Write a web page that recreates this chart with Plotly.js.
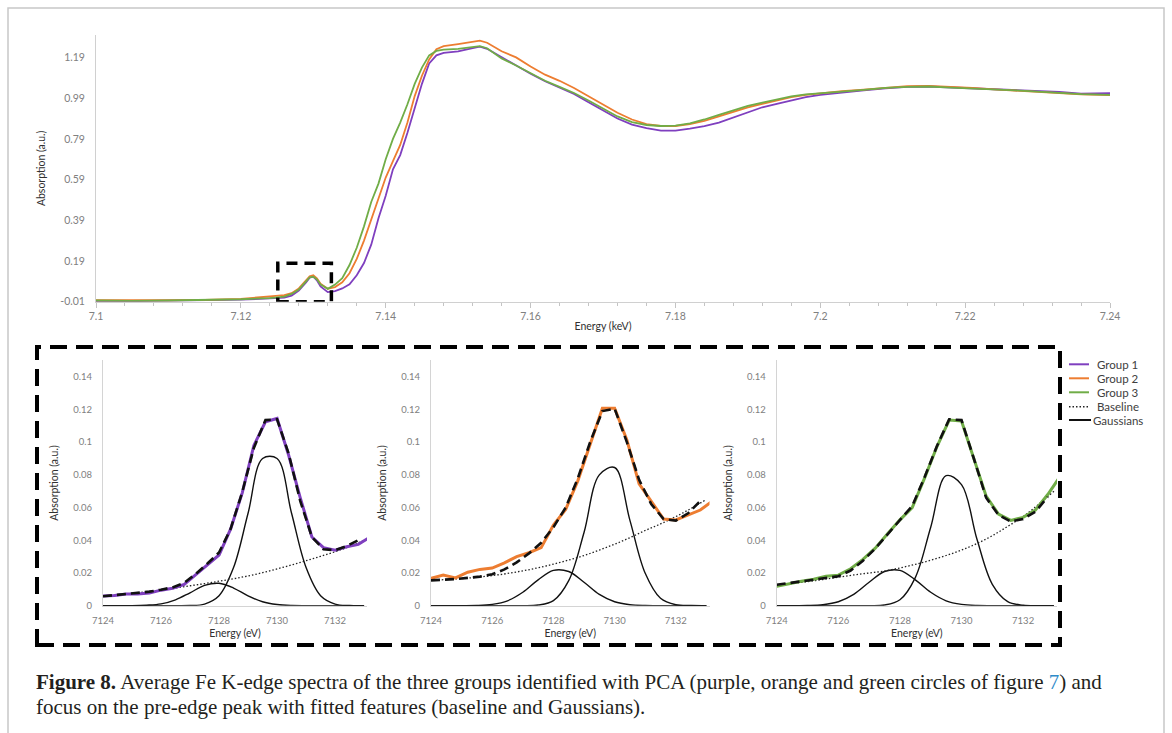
<!DOCTYPE html>
<html>
<head>
<meta charset="utf-8">
<script src="https://cdn.plot.ly/plotly-3.0.1.min.js"></script>
<style>
html,body{margin:0;padding:0;background:#fff;}
#chart{width:1172px;height:733px;}
</style>
</head>
<body>
<div id="chart"></div>
<script>
// ---------- Top chart: Fe K-edge spectra (energy in keV) ----------
const topE = [7.100, 7.105, 7.110, 7.115, 7.120, 7.124, 7.126, 7.127, 7.128, 7.129,
  7.1295, 7.130, 7.1305, 7.131, 7.132, 7.133, 7.134, 7.135, 7.136, 7.137,
  7.138, 7.139, 7.140, 7.141, 7.142, 7.143, 7.144, 7.145, 7.146, 7.147,
  7.148, 7.150, 7.152, 7.153, 7.154, 7.156, 7.158, 7.160, 7.162, 7.164,
  7.166, 7.168, 7.170, 7.172, 7.174, 7.176, 7.178, 7.180, 7.182, 7.184,
  7.186, 7.188, 7.190, 7.192, 7.194, 7.196, 7.198, 7.200, 7.203, 7.206,
  7.209, 7.212, 7.215, 7.218, 7.221, 7.224, 7.227, 7.230, 7.233, 7.236, 7.240];

const group1Top = [-0.010, -0.008, -0.006, -0.003, 0.000, 0.006, 0.010, 0.020, 0.045, 0.085,
  0.108, 0.113, 0.095, 0.065, 0.037, 0.042, 0.055, 0.075, 0.120, 0.180,
  0.270, 0.400, 0.510, 0.640, 0.710, 0.820, 0.940, 1.060, 1.160, 1.200,
  1.212, 1.220, 1.235, 1.243, 1.232, 1.190, 1.150, 1.110, 1.073, 1.042,
  1.010, 0.970, 0.928, 0.890, 0.860, 0.843, 0.830, 0.830, 0.840, 0.852,
  0.870, 0.895, 0.920, 0.945, 0.962, 0.980, 0.995, 1.006, 1.018, 1.028,
  1.038, 1.045, 1.047, 1.043, 1.038, 1.033, 1.028, 1.024, 1.020, 1.012, 1.014];

const group2Top = [-0.003, -0.004, -0.003, -0.001, 0.004, 0.016, 0.022, 0.032, 0.055, 0.095,
  0.115, 0.120, 0.105, 0.078, 0.054, 0.062, 0.085, 0.130, 0.200, 0.290,
  0.390, 0.490, 0.600, 0.680, 0.760, 0.870, 1.000, 1.100, 1.180, 1.230,
  1.245, 1.255, 1.265, 1.272, 1.262, 1.220, 1.190, 1.145, 1.105, 1.075,
  1.040, 1.000, 0.958, 0.918, 0.885, 0.862, 0.853, 0.853, 0.862, 0.878,
  0.900, 0.922, 0.945, 0.962, 0.978, 0.995, 1.006, 1.014, 1.024, 1.032,
  1.042, 1.049, 1.050, 1.046, 1.040, 1.033, 1.027, 1.020, 1.014, 1.008, 1.005];

const group3Top = [-0.004, -0.006, -0.004, -0.002, 0.002, 0.008, 0.015, 0.028, 0.050, 0.090,
  0.110, 0.113, 0.100, 0.075, 0.053, 0.074, 0.105, 0.170, 0.255, 0.360,
  0.480, 0.570, 0.690, 0.790, 0.870, 0.960, 1.060, 1.140, 1.200, 1.222,
  1.228, 1.232, 1.240, 1.245, 1.235, 1.185, 1.150, 1.112, 1.075, 1.045,
  1.015, 0.978, 0.940, 0.900, 0.872, 0.858, 0.853, 0.855, 0.866, 0.885,
  0.908, 0.930, 0.952, 0.968, 0.983, 0.998, 1.008, 1.015, 1.022, 1.030,
  1.040, 1.045, 1.047, 1.042, 1.038, 1.034, 1.028, 1.022, 1.015, 1.010, 1.006];

const topXTicks = [7.10, 7.12, 7.14, 7.16, 7.18, 7.20, 7.22, 7.24];
const topXLabels = ['7.1', '7.12', '7.14', '7.16', '7.18', '7.2', '7.22', '7.24'];
const topYTicks = [-0.01, 0.19, 0.39, 0.59, 0.79, 0.99, 1.19];
const topYLabels = ['-0.01', '0.19', '0.39', '0.59', '0.79', '0.99', '1.19'];

// ---------- Pre-edge insets (energy in eV) ----------
const insetE = [7124.0, 7124.4, 7124.8, 7125.2, 7125.6, 7126.0, 7126.4, 7126.8, 7127.2, 7127.6,
  7128.0, 7128.4, 7128.8, 7129.2, 7129.6, 7130.0, 7130.4, 7130.8, 7131.2, 7131.6,
  7132.0, 7132.4, 7132.8, 7133.2];

const group1Pre = [0.0059, 0.0062, 0.0072, 0.0072, 0.0078, 0.0095, 0.0107, 0.0130, 0.0190, 0.0250,
  0.0310, 0.0470, 0.0690, 0.0980, 0.1125, 0.1145, 0.0920, 0.0660, 0.0420, 0.0355,
  0.0340, 0.0360, 0.0375, 0.0418];
const fit1 = [0.0058, 0.0064, 0.0071, 0.0079, 0.0086, 0.0098, 0.0112, 0.0140, 0.0195, 0.0258,
  0.0325, 0.0470, 0.0695, 0.0965, 0.1135, 0.1140, 0.0930, 0.0640, 0.0420, 0.0345,
  0.0340, 0.0365, 0.0400, null];

const group2Pre = [0.0167, 0.0188, 0.0170, 0.0205, 0.0222, 0.0230, 0.0262, 0.0300, 0.0324, 0.0355,
  0.0493, 0.0588, 0.0765, 0.0993, 0.1207, 0.1207, 0.1013, 0.0745, 0.0637, 0.0530,
  0.0524, 0.0555, 0.0585, 0.0640];
const fit2 = [0.0155, 0.0158, 0.0163, 0.0170, 0.0178, 0.0192, 0.0222, 0.0265, 0.0320, 0.0385,
  0.0480, 0.0600, 0.0780, 0.1000, 0.1190, 0.1205, 0.1000, 0.0770, 0.0620, 0.0530,
  0.0520, 0.0565, 0.0640, null];

const group3Pre = [0.0118, 0.0135, 0.0150, 0.0162, 0.0180, 0.0187, 0.0226, 0.0283, 0.0352, 0.0440,
  0.0525, 0.0600, 0.0780, 0.0972, 0.1135, 0.1130, 0.0900, 0.0670, 0.0560, 0.0522,
  0.0540, 0.0585, 0.0680, 0.0790];
const fit3 = [0.0128, 0.0138, 0.0148, 0.0158, 0.0168, 0.0180, 0.0215, 0.0275, 0.0350, 0.0438,
  0.0528, 0.0610, 0.0785, 0.0975, 0.1140, 0.1135, 0.0900, 0.0660, 0.0555, 0.0515,
  0.0530, 0.0575, 0.0665, null];

const curveE = [7124, 7124.5, 7125, 7125.5, 7126, 7126.5, 7127, 7127.5, 7128, 7128.5,
  7129, 7129.5, 7130, 7130.5, 7131, 7131.5, 7132, 7132.5, 7133];

const base1 = [0.0058, 0.0066, 0.0075, 0.0085, 0.0095, 0.0108, 0.0122, 0.0135, 0.0150, 0.0165,
  0.0182, 0.0202, 0.0225, 0.0249, 0.0275, 0.0302, 0.0330, 0.0362, 0.0400];
const gaussA1 = [0, 0, 0, 0.0003, 0.0011, 0.0036, 0.0079, 0.0124, 0.0137, 0.0108,
  0.0060, 0.0024, 0.0007, 0.0001, 0, 0, 0, 0, 0];
const gaussB1 = [0, 0, 0, 0, 0, 0, 0.0001, 0.0010, 0.0061, 0.0233,
  0.0565, 0.0900, 0.0900, 0.0565, 0.0233, 0.0061, 0.0010, 0.0001, 0];

const base2 = [0.0155, 0.0160, 0.0166, 0.0174, 0.0184, 0.0197, 0.0213, 0.0232, 0.0254, 0.0279,
  0.0307, 0.0340, 0.0376, 0.0416, 0.0460, 0.0500, 0.0545, 0.0595, 0.0650];
const gaussA2 = [0, 0, 0, 0.0001, 0.0008, 0.0030, 0.0082, 0.0158, 0.0216, 0.0209,
  0.0143, 0.0069, 0.0024, 0.0006, 0.0001, 0, 0, 0, 0];
const gaussB2 = [0, 0, 0, 0, 0, 0, 0, 0.0004, 0.0031, 0.0153,
  0.0448, 0.0800, 0.0845, 0.0522, 0.0198, 0.0045, 0.0006, 0.0001, 0];

const base3 = [0.0126, 0.0136, 0.0147, 0.0160, 0.0174, 0.0188, 0.0200, 0.0212, 0.0231, 0.0253,
  0.0278, 0.0307, 0.0340, 0.0380, 0.0428, 0.0485, 0.0545, 0.0620, 0.0700];
const gaussA3 = [0, 0, 0.0001, 0.0006, 0.0024, 0.0069, 0.0143, 0.0209, 0.0216, 0.0158,
  0.0082, 0.0030, 0.0008, 0.0001, 0, 0, 0, 0, 0];
const gaussB3 = [0, 0, 0, 0, 0, 0, 0, 0.0004, 0.0036, 0.0172,
  0.0480, 0.0795, 0.0740, 0.0408, 0.0131, 0.0025, 0.0003, 0, 0];

const insetXTicks = [7124, 7126, 7128, 7130, 7132];
const insetYTicks = [0, 0.02, 0.04, 0.06, 0.08, 0.10, 0.12, 0.14];
const insetYLabels = ['0', '0.02', '0.04', '0.06', '0.08', '0.1', '0.12', '0.14'];

const seriesNames = ['Group 1', 'Group 2', 'Group 3', 'Baseline', 'Gaussians'];
const colors = ['#7F3FBF', '#ED7D31', '#70AD47'];

const captionLine1 = '<b>Figure 8.</b> Average Fe K-edge spectra of the three groups identified with PCA (purple, orange and green circles of figure <span style="color:#2E8BC9">7</span>) and';
const captionLine2 = 'focus on the pre-edge peak with fitted features (baseline and Gaussians).';

// ---------- geometry helpers (pixel -> paper) ----------
const W = 1172, H = 733;
const px = v => v / W;
const py = v => 1 - v / H;

const FAMILY = 'Lato, "Open Sans", sans-serif';
const TOPTICKFONT = {family: FAMILY, size: 10.5, color: '#808080'};
const INSETTICKFONT = {family: FAMILY, size: 9.5, color: '#808080'};
const TITLEFONT = {family: FAMILY, size: 10.5, color: '#303030'};

const traces = [];
// top chart
[group1Top, group2Top, group3Top].forEach((ys, i) => {
  traces.push({x: topE, y: ys, xaxis: 'x', yaxis: 'y', type: 'scatter', mode: 'lines',
    name: seriesNames[i], showlegend: false, line: {color: colors[i], width: 1.8}});
});

// insets
const insetSets = [
  {data: group1Pre, fit: fit1, base: base1, ga: gaussA1, gb: gaussB1, ax: '2'},
  {data: group2Pre, fit: fit2, base: base2, ga: gaussA2, gb: gaussB2, ax: '3'},
  {data: group3Pre, fit: fit3, base: base3, ga: gaussA3, gb: gaussB3, ax: '4'}
];
insetSets.forEach((s, i) => {
  const xa = 'x' + s.ax, ya = 'y' + s.ax;
  traces.push({x: curveE, y: s.ga, xaxis: xa, yaxis: ya, mode: 'lines', showlegend: false, name: 'Gaussians',
    line: {color: '#111', width: 1.4, shape: 'spline'}});
  traces.push({x: curveE, y: s.gb, xaxis: xa, yaxis: ya, mode: 'lines', showlegend: false, name: 'Gaussians',
    line: {color: '#111', width: 1.4, shape: 'spline'}});
  traces.push({x: curveE, y: s.base, xaxis: xa, yaxis: ya, mode: 'lines', showlegend: false, name: 'Baseline',
    line: {color: '#222', width: 1.3, dash: '1.5px,2px', shape: 'spline'}});
  traces.push({x: insetE, y: s.data, xaxis: xa, yaxis: ya, mode: 'lines', showlegend: false, name: seriesNames[i],
    line: {color: colors[i], width: 3}});
  traces.push({x: insetE, y: s.fit, xaxis: xa, yaxis: ya, mode: 'lines', showlegend: false, name: 'Fit',
    connectgaps: false, line: {color: '#111', width: 2.6, dash: '9px,5px'}});
});

function insetX(domain) {
  return {domain: domain, range: [7124, 7133.1], showgrid: false, zeroline: false,
    showline: true, linecolor: '#d4d4d4', linewidth: 1, ticks: '', tickvals: insetXTicks,
    ticktext: insetXTicks.map(String), tickfont: INSETTICKFONT, ticklabelstandoff: 6,
    title: {text: 'Energy (eV)', font: TITLEFONT, standoff: 4}, fixedrange: true};
}
function insetY(anchor) {
  return {domain: [py(605.7), py(360.4)], range: [0, 0.15], anchor: anchor, showgrid: false,
    zeroline: false, showline: true, linecolor: '#d4d4d4', linewidth: 1, ticks: '',
    tickvals: insetYTicks, ticktext: insetYLabels, tickfont: INSETTICKFONT, ticklabelstandoff: 8,
    title: {text: 'Absorption (a.u.)', font: TITLEFONT, standoff: 12}, fixedrange: true};
}

const shapes = [
  // outer light frame
  {type: 'rect', xref: 'paper', yref: 'paper', x0: px(8), x1: px(1164), y0: -0.05, y1: py(8),
    line: {color: '#c8c8c8', width: 1.5}, layer: 'below'},
  // dashed zoom box on top chart (pre-edge region)
  {type: 'rect', xref: 'x', yref: 'y', x0: 7.1251, x1: 7.1325, y0: -0.01, y1: 0.179,
    line: {color: '#000', width: 3.5, dash: '11px,7px'}},
  // dashed box around the insets
  {type: 'rect', xref: 'paper', yref: 'paper', x0: px(37), x1: px(1060), y0: py(645), y1: py(347),
    line: {color: '#000', width: 4, dash: '17px,9px'}}
];

// legend (manual, to match compact Excel legend spacing)
const legRows = [364.3, 378.3, 392.3, 406.7, 420];
const legStyles = [
  {color: colors[0], width: 2, dash: 'solid', x0: 1069, x1: 1089},
  {color: colors[1], width: 2, dash: 'solid', x0: 1069, x1: 1089},
  {color: colors[2], width: 2, dash: 'solid', x0: 1069, x1: 1089},
  {color: '#222', width: 1.5, dash: '1.5px,2px', x0: 1069, x1: 1089},
  {color: '#111', width: 2, dash: 'solid', x0: 1069, x1: 1091}
];
const annotations = [];
legRows.forEach((r, i) => {
  const st = legStyles[i];
  shapes.push({type: 'line', xref: 'paper', yref: 'paper', x0: px(st.x0), x1: px(st.x1), y0: py(r), y1: py(r),
    line: {color: st.color, width: st.width, dash: st.dash}});
  annotations.push({xref: 'paper', yref: 'paper', x: px(i === 4 ? 1091 : 1095), y: py(r), xanchor: 'left', yanchor: 'middle',
    showarrow: false, text: seriesNames[i], font: {family: FAMILY, size: 11.5, color: '#404040'}});
});

// caption
annotations.push({xref: 'paper', yref: 'paper', x: px(34), y: py(682), xanchor: 'left', yanchor: 'middle',
  showarrow: false, text: captionLine1, font: {family: '"Liberation Serif", serif', size: 21, color: '#231F20'}});
annotations.push({xref: 'paper', yref: 'paper', x: px(34), y: py(707), xanchor: 'left', yanchor: 'middle',
  showarrow: false, text: captionLine2, font: {family: '"Liberation Serif", serif', size: 21, color: '#231F20'}});

const layout = {
  width: W, height: H, margin: {l: 0, r: 0, t: 0, b: 0},
  paper_bgcolor: '#ffffff', plot_bgcolor: 'rgba(0,0,0,0)', showlegend: false,
  xaxis: {domain: [px(96), px(1110)], range: [7.1, 7.24], anchor: 'y', showgrid: false, zeroline: false,
    showline: true, linecolor: '#d0d0d0', linewidth: 1, ticks: 'outside', ticklen: 5, tickcolor: '#c4c4c4',
    tickvals: topXTicks, ticktext: topXLabels, tickfont: TOPTICKFONT,
    minor: {tick0: 7.1, dtick: 0.004, ticks: 'outside', ticklen: 3, tickcolor: '#c4c4c4', showgrid: false},
    title: {text: 'Energy (keV)', font: TITLEFONT, standoff: 1}, fixedrange: true},
  yaxis: {domain: [py(301.7), py(35)], range: [-0.01, 1.30], anchor: 'x', showgrid: false, zeroline: false,
    showline: true, linecolor: '#d0d0d0', linewidth: 1, ticks: '', tickvals: topYTicks, ticktext: topYLabels,
    tickfont: TOPTICKFONT, ticklabelstandoff: 8,
    title: {text: 'Absorption (a.u.)', font: TITLEFONT, standoff: 12}, fixedrange: true},
  xaxis2: Object.assign(insetX([px(103), px(367)]), {anchor: 'y2'}),
  yaxis2: insetY('x2'),
  xaxis3: Object.assign(insetX([px(431), px(709.5)]), {anchor: 'y3'}),
  yaxis3: insetY('x3'),
  xaxis4: Object.assign(insetX([px(776.7), px(1057)]), {anchor: 'y4'}),
  yaxis4: insetY('x4'),
  shapes: shapes,
  annotations: annotations
};

Plotly.newPlot('chart', traces, layout, {displayModeBar: false, staticPlot: true});
</script>
</body>
</html>
